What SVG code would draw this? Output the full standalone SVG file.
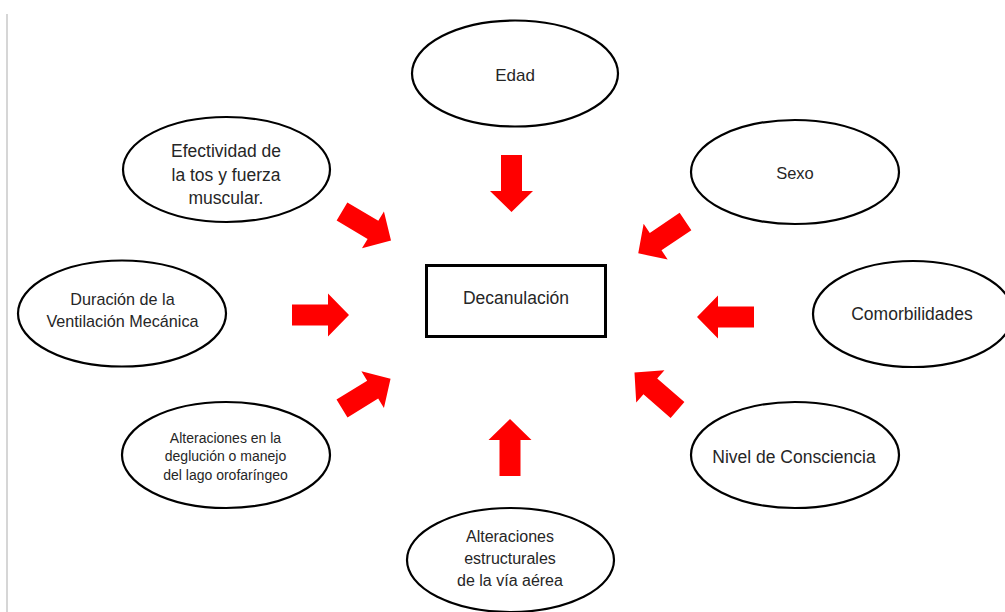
<svg xmlns="http://www.w3.org/2000/svg" width="1005" height="612" viewBox="0 0 1005 612">
<defs>
<style>
.n ellipse{fill:#fff;stroke:#000;stroke-width:2.2}
.t{font-family:"Liberation Sans",Arial,sans-serif;fill:#262626;text-anchor:middle}
.arr{fill:#ff0000}
</style>
<polygon id="ar" points="0,-10.5 36,-10.5 36,-21.5 57,0 36,21.5 36,10.5 0,10.5"/>
</defs>
<rect width="1005" height="612" fill="#fff"/>
<line x1="7" y1="14" x2="7" y2="612" stroke="#c8c8c8" stroke-width="1.5"/>

<g id="connectors" class="arr">
<use href="#ar" transform="translate(511.5,155) rotate(90)"/>
<use href="#ar" transform="translate(510,476) rotate(-90)"/>
<use href="#ar" transform="translate(292,315) rotate(0)"/>
<use href="#ar" transform="translate(754,317) rotate(180)"/>
<use href="#ar" transform="translate(342,211.5) rotate(30.7)"/>
<use href="#ar" transform="translate(685.5,221.5) rotate(146)"/>
<use href="#ar" transform="translate(677.5,410) rotate(-139)"/>
<use href="#ar" transform="translate(342,408.5) rotate(-31.6)"/>
</g>

<g id="decanulacion">
<rect x="426.5" y="265.5" width="179" height="71" fill="#fff" stroke="#000" stroke-width="3"/>
<text class="t" x="516" y="304" font-size="17.5">Decanulación</text>
</g>

<g id="edad" class="n">
<ellipse cx="515" cy="73.5" rx="103" ry="53"/>
<text class="t" x="515" y="81" font-size="17">Edad</text>
</g>

<g id="efectividad" class="n">
<ellipse cx="226.5" cy="169.5" rx="103.5" ry="52.5"/>
<text class="t" font-size="17.5"><tspan x="226" y="156.5">Efectividad de</tspan><tspan x="226" y="180.5">la tos y fuerza</tspan><tspan x="226" y="204">muscular.</tspan></text>
</g>

<g id="sexo" class="n">
<ellipse cx="795" cy="172" rx="104" ry="52"/>
<text class="t" x="795" y="178.5" font-size="16.5">Sexo</text>
</g>

<g id="duracion" class="n">
<ellipse cx="122" cy="313.5" rx="104" ry="53"/>
<text class="t" font-size="16.2"><tspan x="122.5" y="305">Duración de la</tspan><tspan x="122.5" y="327">Ventilación Mecánica</tspan></text>
</g>

<g id="comorbilidades" class="n">
<ellipse cx="913" cy="314" rx="100" ry="53"/>
<text class="t" x="912" y="320" font-size="17.5">Comorbilidades</text>
</g>

<g id="deglucion" class="n">
<ellipse cx="226" cy="455" rx="104" ry="53"/>
<text class="t" font-size="14"><tspan x="225.5" y="442.5">Alteraciones en la</tspan><tspan x="225.5" y="461">deglución o manejo</tspan><tspan x="225.5" y="480">del lago orofaríngeo</tspan></text>
</g>

<g id="nivel" class="n">
<ellipse cx="795" cy="455" rx="104" ry="53"/>
<text class="t" x="794" y="463" font-size="17.5">Nivel de Consciencia</text>
</g>

<g id="estructurales" class="n">
<ellipse cx="510.5" cy="560" rx="103.5" ry="52"/>
<text class="t" font-size="16"><tspan x="510" y="541.5">Alteraciones</tspan><tspan x="510" y="563.5">estructurales</tspan><tspan x="510" y="585.5">de la vía aérea</tspan></text>
</g>
</svg>
